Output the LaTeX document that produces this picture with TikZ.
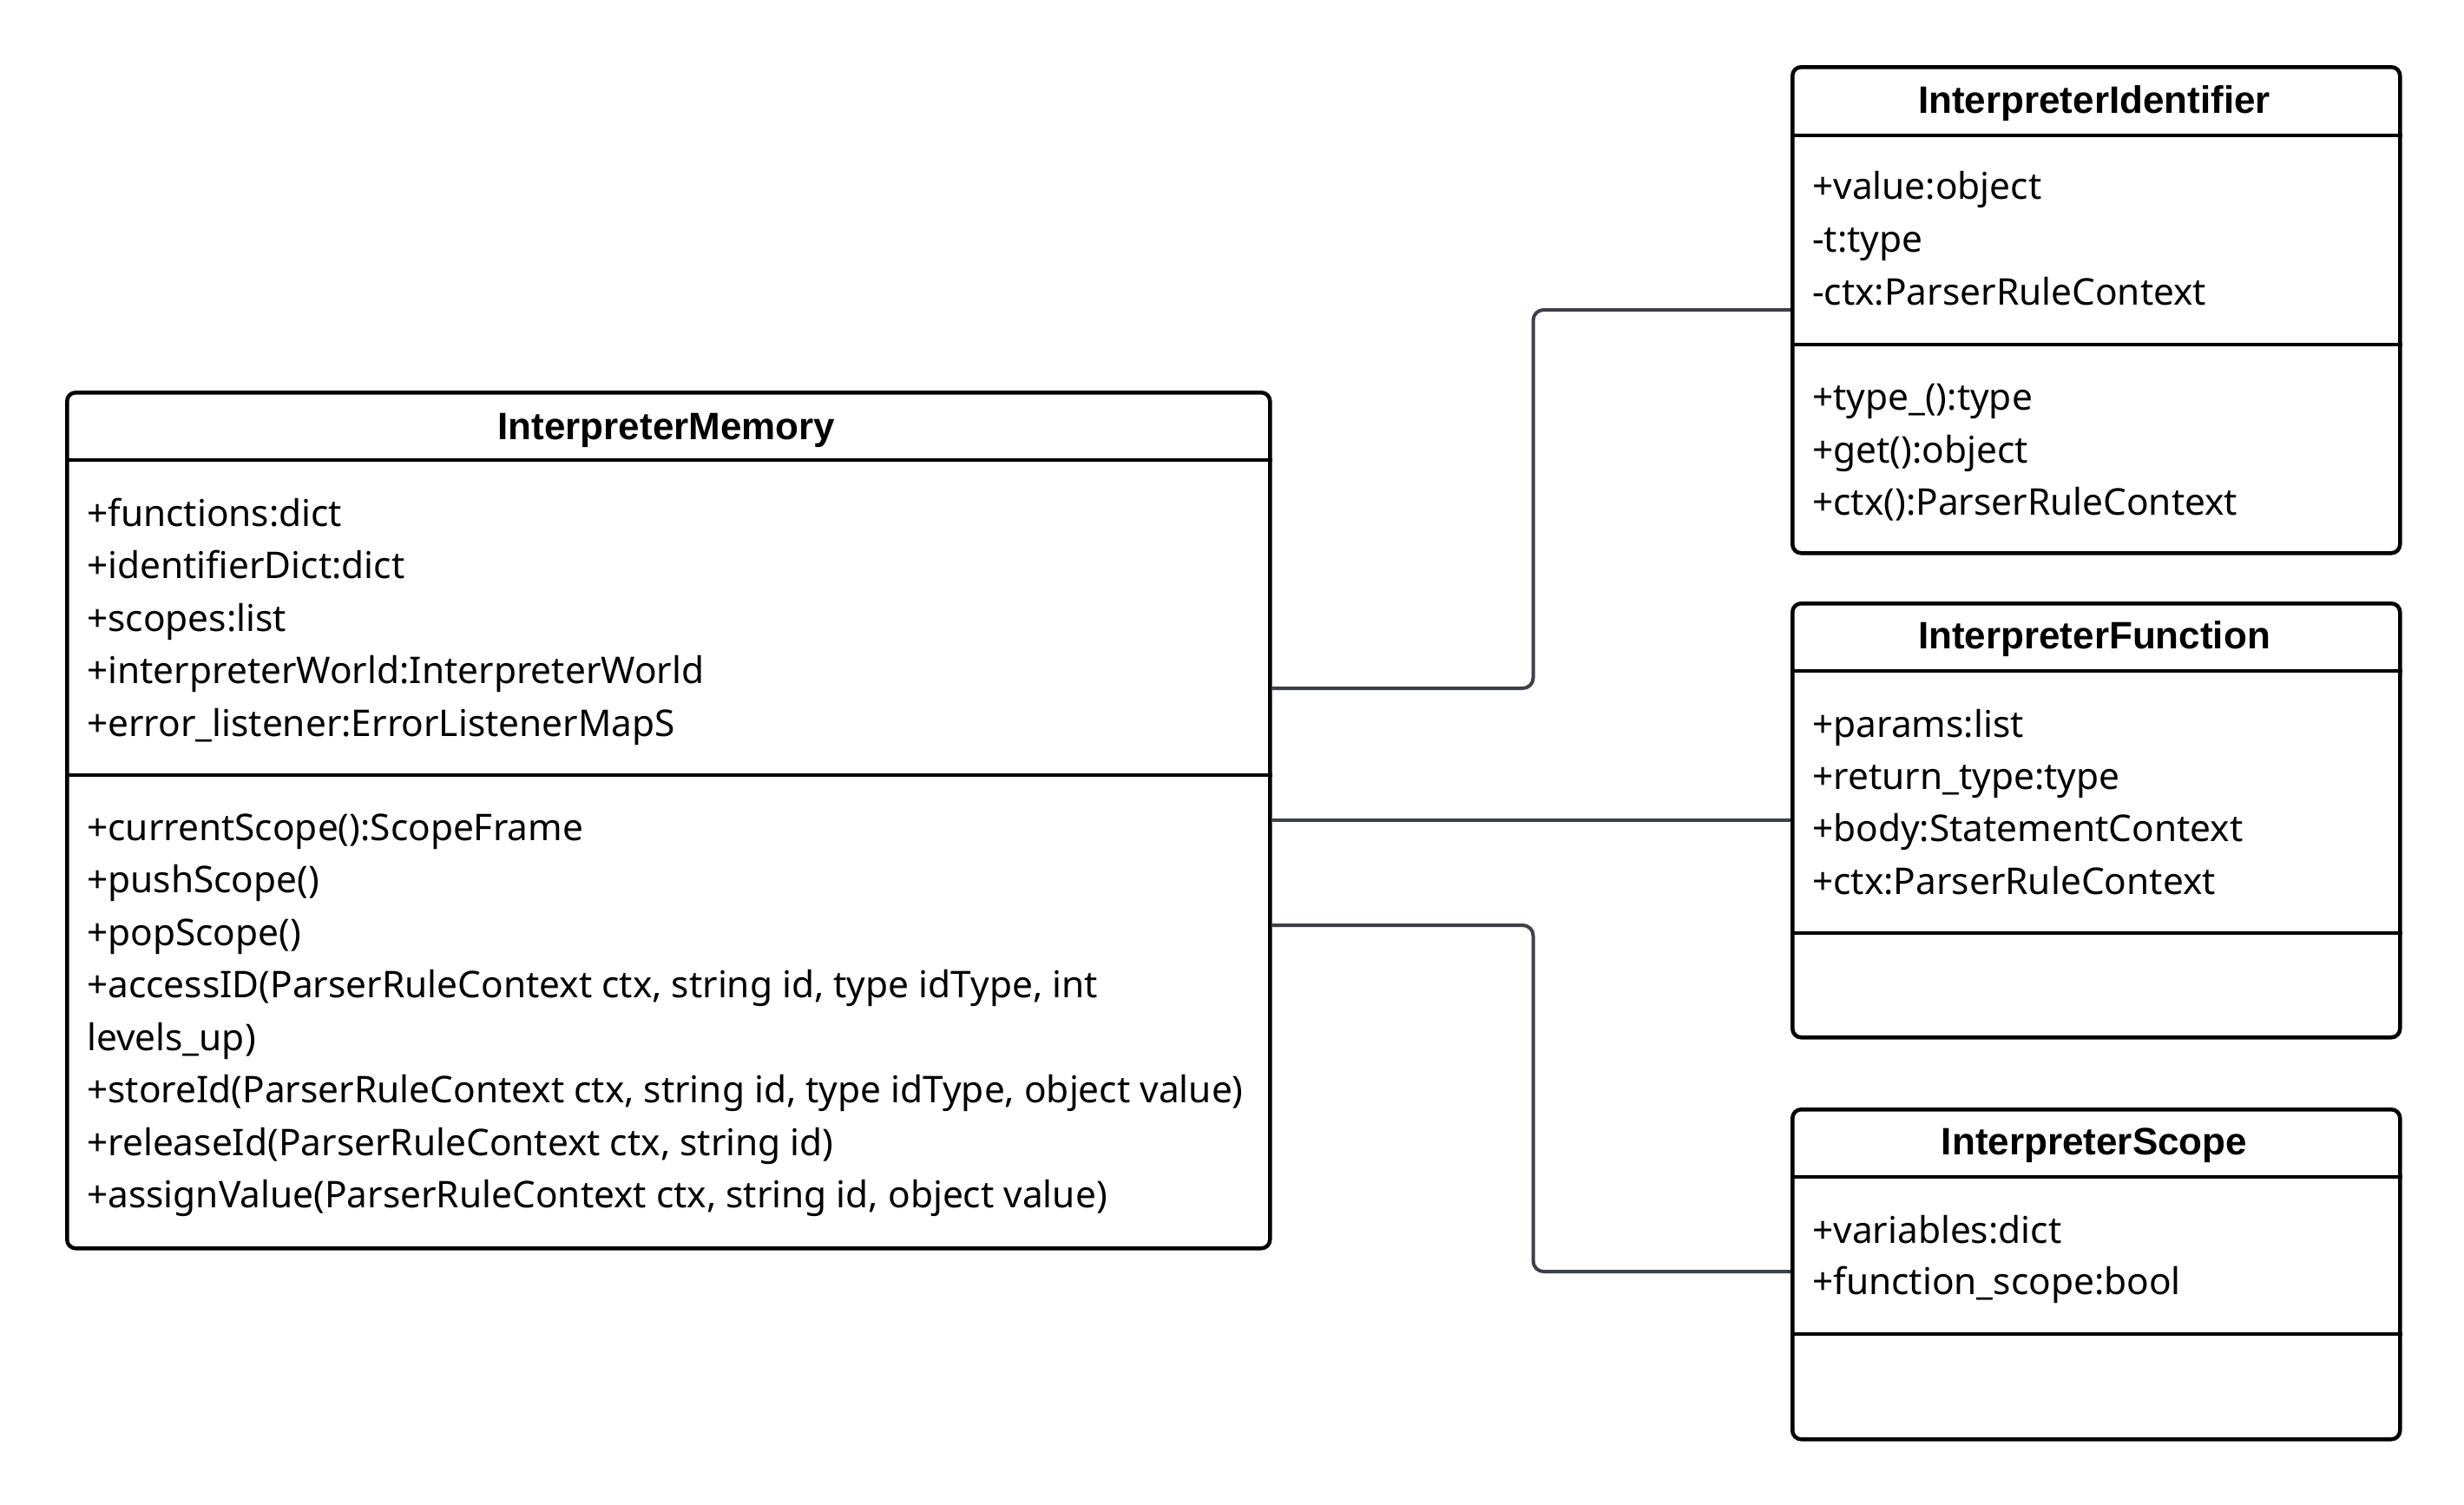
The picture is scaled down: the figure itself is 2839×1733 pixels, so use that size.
\documentclass[tikz,border=0pt]{standalone}
\usepackage{fontspec}
\setmainfont{Noto Sans}
\newfontfamily\ttlfont{Liberation Sans}
\definecolor{linkc}{RGB}{60,64,72}
\tikzset{
  cls/.style={draw=black, line width=4.5pt, rounded corners=10pt, inner sep=0pt, anchor=north west},
  sep/.style={draw=black, line width=4.5pt},
  row/.style={anchor=base west, inner sep=0pt, font=\fontsize{42.4}{48}\selectfont},
  ttl/.style={anchor=base, inner sep=0pt, font=\ttlfont\bfseries\fontsize{44}{48}\selectfont},
  link/.style={draw=linkc, line width=4pt, rounded corners=12pt},
}
\begin{document}
\begin{tikzpicture}[x=1pt,y=-1pt]
\useasboundingbox[fill=white] (0,0) rectangle (2839,1733);

% InterpreterMemory
\node[cls, minimum width=1386pt, minimum height=986pt] (mem) at (75,450) {};
\draw[sep] (mem.west |- 0,530) -- (mem.east |- 0,530);
\draw[sep] (mem.west |- 0,893) -- (mem.east |- 0,893);
\node[ttl] (memT) at (768,506) {InterpreterMemory};
\node[row] (m1) at (100,606) {+functions:dict};
\node[row] (m2) at (100,666.5) {+identifierDict:dict};
\node[row] (m3) at (100,727) {+scopes:list};
\node[row] (m4) at (100,787.5) {+interpreterWorld:InterpreterWorld};
\node[row] (m5) at (100,848) {+error\_listener:ErrorListenerMapS};
\node[row] (n1) at (100,968) {+currentScope():ScopeFrame};
\node[row] (n2) at (100,1028.5) {+pushScope()};
\node[row] (n3) at (100,1089) {+popScope()};
\node[row] (n4) at (100,1149.5) {+accessID(ParserRuleContext ctx, string id, type idType, int};
\node[row] (n5) at (100,1210) {levels\_up)};
\node[row] (n6) at (100,1270.5) {+storeId(ParserRuleContext ctx, string id, type idType, object value)};
\node[row] (n7) at (100,1331) {+releaseId(ParserRuleContext ctx, string id)};
\node[row] (n8) at (100,1391.5) {+assignValue(ParserRuleContext ctx, string id, object value)};

% InterpreterIdentifier
\node[cls, minimum width=700pt, minimum height=560pt] (ident) at (2063,75) {};
\draw[sep] (ident.west |- 0,156) -- (ident.east |- 0,156);
\draw[sep] (ident.west |- 0,397) -- (ident.east |- 0,397);
\node[ttl] (identT) at (2413,130) {InterpreterIdentifier};
\node[row] (i1) at (2088,229) {+value:object};
\node[row] (i2) at (2088,290) {-t:type};
\node[row] (i3) at (2088,351) {-ctx:ParserRuleContext};
\node[row] (i4) at (2088,472) {+type\_():type};
\node[row] (i5) at (2088,533) {+get():object};
\node[row] (i6) at (2088,593) {+ctx():ParserRuleContext};

% InterpreterFunction
\node[cls, minimum width=700pt, minimum height=500pt] (func) at (2063,693) {};
\draw[sep] (func.west |- 0,773) -- (func.east |- 0,773);
\draw[sep] (func.west |- 0,1075) -- (func.east |- 0,1075);
\node[ttl] (funcT) at (2413,747) {InterpreterFunction};
\node[row] (f1) at (2088,849) {+params:list};
\node[row] (f2) at (2088,909) {+return\_type:type};
\node[row] (f3) at (2088,969) {+body:StatementContext};
\node[row] (f4) at (2088,1030) {+ctx:ParserRuleContext};

% InterpreterScope
\node[cls, minimum width=700pt, minimum height=380pt] (scope) at (2063,1276) {};
\draw[sep] (scope.west |- 0,1356) -- (scope.east |- 0,1356);
\draw[sep] (scope.west |- 0,1537) -- (scope.east |- 0,1537);
\node[ttl] (scopeT) at (2413,1330) {InterpreterScope};
\node[row] (s1) at (2088,1432) {+variables:dict};
\node[row] (s2) at (2088,1491) {+function\_scope:bool};

% connectors
\coordinate (a1) at (mem.east |- 0,793);
\coordinate (b1) at (ident.west |- 0,357);
\coordinate (a3) at (mem.east |- 0,1066);
\coordinate (b3) at (scope.west |- 0,1465);
\draw[link] (a1) -- ++(301,0) |- (b1);
\draw[link] (func.west -| mem.east) -- (func.west);
\draw[link] (a3) -- ++(301,0) |- (b3);
\end{tikzpicture}
\end{document}
